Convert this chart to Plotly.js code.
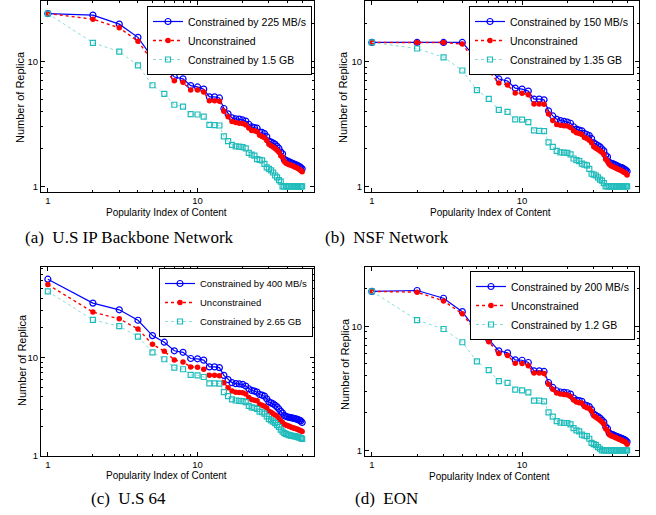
<!DOCTYPE html>
<html><head><meta charset="utf-8">
<script src="https://cdn.plot.ly/plotly-3.0.1.min.js"></script>
<style>html,body{margin:0;padding:0;background:#fff}</style>
</head><body><div id="chart" style="width:656px;height:515px"></div>
<script>
const popularity = [1,2,3,4,5,6,7,8,9,10,11,12,13,14,15,16,17,18,19,20,21,22,23,24,25,26,27,28,29,30,31,32,33,34,35,36,37,38,39,40,41,42,43,44,45,46,47,48,49,50];

// (a) U.S IP Backbone Network
const aBandwidth = [24.2,23.5,19.9,15.6,10.7,9.3,7.5,7.25,6.4,6.25,6.0,5.2,5.2,5.1,4.2,3.8,3.53,3.47,3.45,3.4,3.33,3.14,2.99,2.95,2.92,2.72,2.7,2.64,2.5,2.3,2.26,2.22,2.17,2.09,2.01,1.88,1.82,1.64,1.61,1.59,1.57,1.55,1.53,1.51,1.49,1.48,1.46,1.44,1.41,1.38];
const aUnconstrained = [24.2,21.8,18.6,14.5,10.1,8.6,7.0,6.8,5.9,5.9,5.7,4.85,4.85,4.8,4.0,3.6,3.3,3.25,3.2,3.18,3.1,2.93,2.8,2.78,2.74,2.56,2.51,2.45,2.33,2.17,2.11,2.06,2.01,1.94,1.87,1.76,1.71,1.58,1.53,1.51,1.49,1.48,1.46,1.44,1.42,1.41,1.39,1.36,1.34,1.31];
const aStorage = [24.2,14.1,12.0,9.3,6.45,5.5,4.5,4.34,3.78,3.76,3.62,3.1,3.09,3.07,2.51,2.3,2.15,2.09,2.08,2.06,2.01,1.85,1.79,1.76,1.65,1.63,1.61,1.51,1.42,1.38,1.34,1.29,1.22,1.18,1.12,1.09,1,1,1,1,1,1,1,1,1,1,1,1,1,1];
const aNames = ["Constrained by 225 MB/s","Unconstrained","Constrained by 1.5 GB"];

// (b) NSF Network
const bBandwidth = [14.2,14.2,14.2,14.2,10.4,8.9,7.24,6.98,6.12,6.0,5.79,4.99,4.99,4.93,4.02,3.66,3.44,3.36,3.31,3.27,3.2,3.0,2.87,2.82,2.78,2.65,2.6,2.55,2.41,2.23,2.17,2.12,2.07,1.99,1.92,1.77,1.72,1.56,1.53,1.52,1.5,1.48,1.46,1.44,1.42,1.41,1.39,1.37,1.35,1.32];
const bUnconstrained = [14.2,14.2,14.2,13.8,9.5,8.35,6.72,6.48,5.58,5.56,5.41,4.57,4.57,4.54,3.8,3.36,3.13,3.08,3.06,3.04,2.96,2.78,2.68,2.65,2.6,2.46,2.41,2.34,2.23,2.07,2.02,1.97,1.92,1.87,1.8,1.65,1.59,1.5,1.46,1.44,1.42,1.4,1.38,1.36,1.35,1.33,1.31,1.29,1.27,1.23];
const bStorage = [14.2,12.7,10.8,8.46,5.9,5.02,4.09,3.94,3.44,3.42,3.27,2.8,2.78,2.77,2.25,2.07,1.92,1.87,1.86,1.85,1.8,1.67,1.62,1.59,1.52,1.49,1.47,1.38,1.26,1.24,1.22,1.18,1.13,1.11,1.06,1,1,1,1,1,1,1,1,1,1,1,1,1,1,1];
const bNames = ["Constrained by 150 MB/s","Unconstrained","Constrained by 1.35 GB"];

// (c) U.S 64
const cBandwidth = [62.4,35.7,30.5,23.9,16.7,14.3,11.7,11.3,9.77,9.7,9.4,8.03,8.03,7.9,6.59,5.96,5.55,5.43,5.39,5.34,5.13,4.82,4.63,4.56,4.45,4.21,4.15,4.05,3.81,3.54,3.46,3.38,3.27,3.15,3.0,2.84,2.73,2.57,2.53,2.49,2.47,2.45,2.43,2.41,2.39,2.37,2.34,2.3,2.27,2.19];
const cUnconstrained = [55,28.9,24.7,19.5,13.6,11.6,9.46,9.03,8.03,7.96,7.6,6.59,6.59,6.54,5.55,4.93,4.56,4.45,4.42,4.38,4.25,3.92,3.75,3.69,3.63,3.36,3.27,3.2,3.08,2.84,2.78,2.69,2.61,2.53,2.41,2.27,2.19,2.09,2.06,2.03,2.0,1.97,1.94,1.92,1.9,1.88,1.86,1.83,1.8,1.77];
const cStorage = [47,24.1,20.8,16.3,11.3,9.6,7.9,7.6,6.65,6.59,6.34,5.46,5.46,5.43,4.45,4.05,3.75,3.66,3.63,3.6,3.53,3.23,3.12,3.08,3.0,2.82,2.78,2.69,2.53,2.37,2.3,2.23,2.16,2.06,1.97,1.85,1.77,1.71,1.68,1.65,1.63,1.61,1.6,1.59,1.58,1.57,1.55,1.54,1.52,1.49];
const cNames = ["Constrained by 400 MB/s","Unconstrained","Constrained by 2.65 GB"];

// (d) EON
const dBandwidth = [19.1,19.4,16.8,13.1,9.12,7.81,6.34,6.1,5.36,5.32,5.1,4.37,4.37,4.32,3.52,3.21,3.02,2.95,2.93,2.91,2.84,2.64,2.54,2.51,2.48,2.33,2.29,2.25,2.13,1.96,1.91,1.87,1.82,1.75,1.69,1.55,1.5,1.38,1.35,1.34,1.32,1.3,1.29,1.27,1.26,1.25,1.23,1.22,1.2,1.17];
const dUnconstrained = [19.1,18.8,16.0,12.6,8.84,7.48,6.03,5.81,5.04,5.0,4.8,4.19,4.19,4.16,3.4,3.11,2.89,2.84,2.82,2.79,2.72,2.54,2.45,2.42,2.39,2.25,2.2,2.17,2.06,1.9,1.85,1.8,1.75,1.69,1.63,1.49,1.44,1.34,1.31,1.3,1.28,1.26,1.25,1.23,1.22,1.2,1.19,1.17,1.16,1.12];
const dStorage = [19.1,11.2,9.5,7.43,5.2,4.43,3.61,3.5,3.08,3.04,2.93,2.51,2.51,2.48,2.02,1.87,1.72,1.67,1.66,1.66,1.62,1.51,1.45,1.42,1.34,1.31,1.3,1.24,1.15,1.12,1.1,1.06,1.03,1,1,1,1,1,1,1,1,1,1,1,1,1,1,1,1,1];
const dNames = ["Constrained by 200 MB/s","Unconstrained","Constrained by 1.2 GB"];

const panelCaptions = ["(a)\u00a0 U.S IP Backbone Network","(b)\u00a0 NSF Network","(c)\u00a0 U.S 64","(d)\u00a0 EON"];
const xTitle = "Popularity Index of Content";
const yTitle = "Number of Replica";

const SANS = "Liberation Sans, Arial, sans-serif";
const SERIF = "Liberation Serif, Times New Roman, serif";
const W = 656, H = 515;

function panelTraces(xa, ya, leg, bw, un, st, names) {
  return [
    {x: popularity, y: bw, xaxis: xa, yaxis: ya, legend: leg, name: names[0], type: 'scatter', mode: 'lines+markers',
     line: {color: '#0000ff', width: 1.2}, marker: {symbol: 'circle-open', size: 6, color: '#0000ff', line: {width: 1.2}}},
    {x: popularity, y: un, xaxis: xa, yaxis: ya, legend: leg, name: names[1], type: 'scatter', mode: 'lines+markers',
     line: {color: '#ff0000', width: 1.4, dash: 'dot'}, marker: {symbol: 'circle', size: 5.5, color: '#ff0000'}},
    {x: popularity, y: st, xaxis: xa, yaxis: ya, legend: leg, name: names[2], type: 'scatter', mode: 'lines+markers',
     line: {color: '#8adcdc', width: 1, dash: 'dot'}, marker: {symbol: 'square-open', size: 5, color: '#20bcbc', line: {width: 1.2}}}
  ];
}

const data = [].concat(
  panelTraces('x', 'y', 'legend', aBandwidth, aUnconstrained, aStorage, aNames),
  panelTraces('x2', 'y2', 'legend2', bBandwidth, bUnconstrained, bStorage, bNames),
  panelTraces('x3', 'y3', 'legend3', cBandwidth, cUnconstrained, cStorage, cNames),
  panelTraces('x4', 'y4', 'legend4', dBandwidth, dUnconstrained, dStorage, dNames)
);

const minorVals = [2,3,4,5,6,7,8,9,20,30,40,50,60,70,80,90];
function axis(domain, anchor, range) {
  return {type: 'log', domain: domain, anchor: anchor, range: range,
    tickvals: [1, 10, 100], ticktext: ['1', '10', '100'], ticks: 'inside', ticklen: 4, tickwidth: 1, tickcolor: '#000',
    showline: true, linecolor: '#000', linewidth: 1, mirror: 'allticks', showgrid: false, zeroline: false,
    tickfont: {family: SANS, size: 9.5, color: '#000'},
    minor: {tickvals: minorVals, ticks: 'inside', ticklen: 2, tickwidth: 1, tickcolor: '#000', showgrid: false}};
}
const L = Math.log10;
const xr = [L(0.9), L(60)];
const dxL = [41 / W, 314 / W], dxR = [365 / W, 639 / W];
const dyT = [1 - 192 / H, 1 - 1 / H], dyB = [1 - 456 / H, 1 - 267 / H];

function legend(xpx, ypx, size) {
  return {x: xpx / W, y: 1 - ypx / H, xanchor: 'right', yanchor: 'top', xref: 'paper', yref: 'paper',
    bgcolor: '#fff', bordercolor: '#000', borderwidth: 1, font: {family: SANS, size: size, color: '#000'},
    itemwidth: 30, tracegroupgap: 0};
}

const ann = [];
function txt(text, xpx, ypx, size, family, angle) {
  ann.push({text: text, x: xpx / W, y: 1 - ypx / H, xref: 'paper', yref: 'paper', showarrow: false,
    xanchor: 'center', yanchor: 'middle', textangle: angle || 0, font: {family: family, size: size, color: '#000'}});
}
txt(yTitle, 20, 97, 11, SANS, -90);
txt(yTitle, 343, 97, 11, SANS, -90);
txt(yTitle, 22, 360, 11, SANS, -90);
txt(yTitle, 345, 364, 11, SANS, -90);
txt(xTitle, 166, 212, 10, SANS);
txt(xTitle, 490, 212, 10, SANS);
txt(xTitle, 166, 475, 10, SANS);
txt(xTitle, 489, 476, 10, SANS);
txt(panelCaptions[0], 129, 237, 17, SERIF);
txt(panelCaptions[1], 387, 237, 17, SERIF);
txt(panelCaptions[2], 128, 498, 17, SERIF);
txt(panelCaptions[3], 386, 498, 17, SERIF);

const layout = {
  width: W, height: H, margin: {l: 0, r: 0, t: 0, b: 0},
  paper_bgcolor: '#fff', plot_bgcolor: '#fff', showlegend: true,
  xaxis: axis(dxL, 'y', xr), yaxis: axis(dyT, 'x', [L(0.9), L(30.5)]),
  xaxis2: axis(dxR, 'y2', xr), yaxis2: axis(dyT, 'x2', [L(0.9), L(30.5)]),
  xaxis3: axis(dxL, 'y3', xr), yaxis3: axis(dyB, 'x3', [L(1), L(83)]),
  xaxis4: axis(dxR, 'y4', xr), yaxis4: axis(dyB, 'x4', [L(0.9), L(30)]),
  legend: legend(312, 6, 10.5), legend2: legend(634, 6, 10.5),
  legend3: legend(313, 268, 9.5), legend4: legend(635, 271, 10.5),
  annotations: ann
};
Plotly.newPlot('chart', data, layout, {staticPlot: true, displayModeBar: false});
</script></body></html>
